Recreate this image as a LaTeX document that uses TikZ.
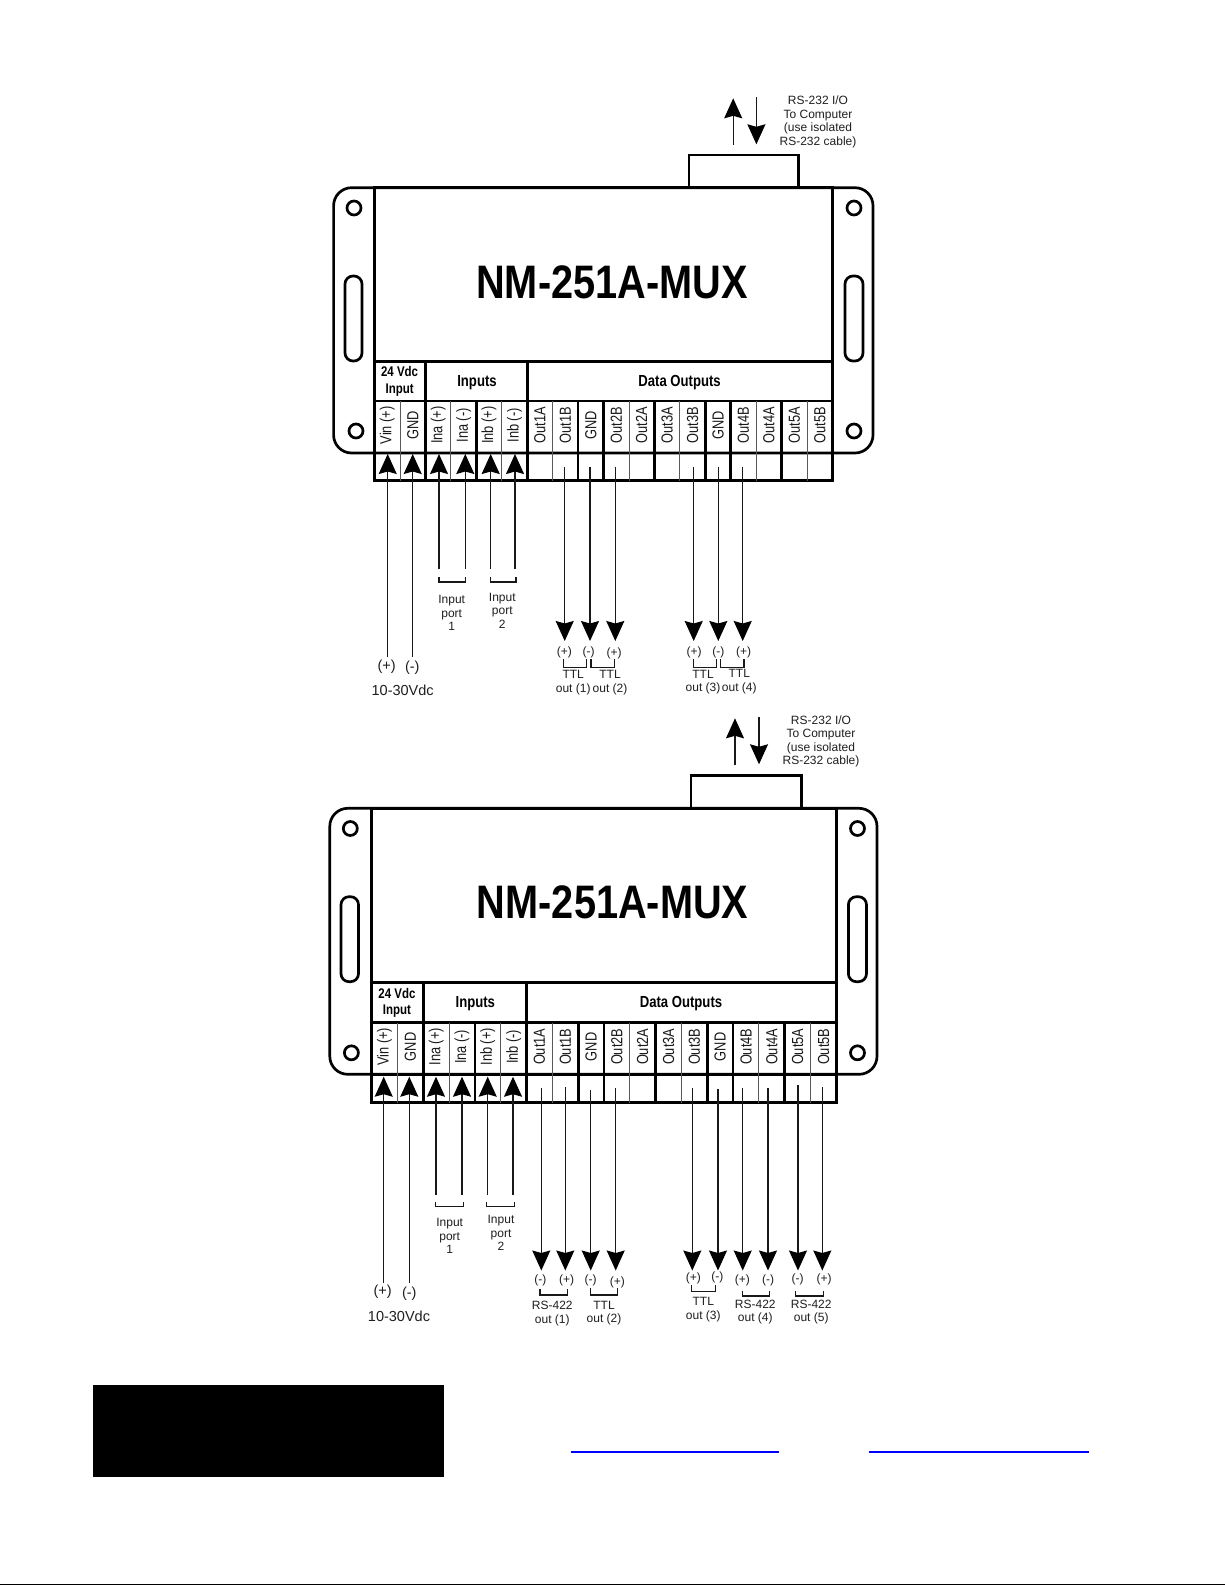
\documentclass[tikz,border=0pt]{standalone}
\usepackage{fontspec}
\setmainfont{Liberation Sans}
\newfontfamily\narrowf[FakeStretch=.8]{Liberation Sans}
\newfontfamily\hdrf[FakeStretch=.82]{Liberation Sans}
\newfontfamily\ttlf[FakeStretch=.845]{Liberation Sans}
\usetikzlibrary{arrows.meta}
\definecolor{txt}{gray}{.12}
\tikzset{
  heavy/.style={line width=2.7pt,black,line join=miter},
  light/.style={line width=.9pt,black!65},
  wire/.style={line width=1.25pt,black!90},
  head/.style={-{Stealth[length=20pt,width=18pt,inset=2.5pt,color=black]}},
  brk/.style={line width=1.3pt,black!90},
  lbl/.style={font=\fontsize{12}{13.5}\selectfont,inner sep=0pt,align=center,text=txt},
  pol/.style={font=\fontsize{12}{13}\selectfont,inner sep=0pt,text=txt},
  pwr/.style={font=\fontsize{14.5}{15}\selectfont,inner sep=0pt,text=txt},
  collbl/.style={font=\narrowf\fontsize{16}{16}\selectfont,inner sep=0pt,rotate=90,text=black!90},
  hdr/.style={font=\hdrf\bfseries\fontsize{16}{16.5}\selectfont,inner sep=0pt,align=center},
  hdrs/.style={font=\hdrf\bfseries\fontsize{14}{16.5}\selectfont,inner sep=0pt,align=center},
  ttl/.style={font=\ttlf\bfseries\fontsize{47}{50}\selectfont,inner sep=0pt},
  hole/.style={line width=2.7pt,black},
}
% wire with arrowhead: name, x, tip y, tail y
\newcommand{\wirearrow}[4]{%
  \coordinate (#1-tip) at (#2,#3);
  \coordinate (#1-tail) at (#2,#4);
  \draw[wire,head] (#1-tail) -- (#1-tip);}
% bracket: name, x1, x2, y1, y2
\newcommand{\wirebracket}[5]{%
  \coordinate (#1-a) at (#2,#4);
  \coordinate (#1-b) at (#3,#4);
  \draw[brk] (#1-a) -- (#2,#5) -- (#3,#5) -- (#1-b);}
% device drawn from the values set in \Pn (name prefix), \Ol \Or \Ot \Ob (outer), \Il \Ir \Tb, \Yh \Yc, \Cl \Cr \Ct
\newcommand{\drawdevice}{%
  \pgfmathsetmacro{\Cw}{(\Ir-\Il)/18}
  \coordinate (\Pn-nw) at (\Ol,\Ot);
  \coordinate (\Pn-se) at (\Or,\Ob);
  \draw[heavy,rounded corners=18pt] (\Pn-nw) rectangle (\Pn-se);
  \draw[heavy] (\Cl,\Ot) -- (\Cl,\Ct) -- (\Cr,\Ct) -- (\Cr,\Ot);
  \draw[heavy] (\Il,\Ot) rectangle (\Ir,\Tb);
  \draw[heavy] (\Il,\Yh) -- (\Ir,\Yh);
  \draw[heavy] (\Il,\Yc) -- (\Ir,\Yc);
  \draw[heavy] (\Il,\Ob) -- (\Ir,\Ob);
  \foreach \i in {2,6} {\draw[heavy] ({\Il+\i*\Cw},\Yh) -- ({\Il+\i*\Cw},\Yc);}
  \foreach \i in {2,4,6,8,9,11,13,14,16} {\draw[heavy] ({\Il+\i*\Cw},\Yc) -- ({\Il+\i*\Cw},\Tb);}
  \foreach \i in {1,3,5,7,10,12,15,17} {\draw[light] ({\Il+\i*\Cw},\Yc) -- ({\Il+\i*\Cw},\Tb);}
  \foreach \t [count=\i from 0] in {Vin (+),GND,Ina (+),Ina (-),Inb (+),Inb (-),Out1A,Out1B,GND,Out2B,Out2A,Out3A,Out3B,GND,Out4B,Out4A,Out5A,Out5B}
    {\node[collbl] (\Pn-col\i) at ({\Il+(\i+.5)*\Cw},{\Yc+.5*(\Ob-\Yc)-1.7}) {\t};}
}
\begin{document}
\begin{tikzpicture}[x=1pt,y=-1pt]
\useasboundingbox (0,0) rectangle (1225,1585);
\fill[white] (0,0) rectangle (1225,1585);

% ---------- upper device ----------
\def\Pn{a}\def\Ol{333.6}\def\Or{873}\def\Ot{187.7}\def\Ob{453}
\def\Il{374.6}\def\Ir{832.5}\def\Tb{480.7}\def\Yh{361.7}\def\Yc{401}
\def\Cl{689}\def\Cr{798.6}\def\Ct{155}
\drawdevice
\draw[hole] (354,208) circle (7pt) (356,431) circle (7pt) (854,208) circle (7pt) (854,431) circle (7pt);
\draw[heavy,rounded corners=8pt] (345,276) rectangle (362,361);
\draw[heavy,rounded corners=8pt] (845,276) rectangle (863,361);
\node[ttl] (a-title) at (612,282.5) {NM-251A-MUX};
\node[hdrs] (a-pwr) at (399.6,381.5) {24 Vdc\\Input};
\node[hdr] (a-in) at (477,382.5) {Inputs};
\node[hdr] (a-out) at (679.6,382.5) {Data Outputs};
\node[lbl] (a-rs) at (818,121.7) {RS-232 I/O\\To Computer\\(use isolated\\RS-232 cable)};
\wirearrow{a-up}{733.2}{98.3}{145}
\wirearrow{a-dn}{756.4}{144.3}{97.3}
\wirearrow{a-w1}{387.7}{454}{656.7}
\wirearrow{a-w2}{412.7}{454}{656.7}
\wirearrow{a-w3}{439}{454}{569}
\wirearrow{a-w4}{465.3}{454}{569}
\wirearrow{a-w5}{490.7}{454}{569}
\wirearrow{a-w6}{515}{454}{569}
\foreach \n/\x in {d1/564.7,d2/590,d3/615.3,d4/693.7,d5/718.3,d6/742.7} {\wirearrow{a-\n}{\x}{641}{466.7}}
\wirebracket{a-b1}{439}{465.5}{576.7}{582}
\wirebracket{a-b2}{490.7}{516}{576.7}{582}
\node[lbl] (a-ip1) at (451.7,613.3) {Input\\port\\1};
\node[lbl] (a-ip2) at (502.3,610.7) {Input\\port\\2};
\node[pwr] (a-p) at (386.7,666.7) {(+)};
\node[pwr] (a-m) at (412.3,667.7) {(-)};
\node[pwr] (a-v) at (402.7,690.7) {10-30Vdc};
\node[pol] at (564.3,652.7) (a-l1) {(+)};
\node[pol] at (588.7,652) (a-l2) {(-)};
\node[pol] at (614,653) (a-l3) {(+)};
\node[pol] at (694,652.3) (a-l4) {(+)};
\node[pol] at (718.3,652) (a-l5) {(-)};
\node[pol] at (743.7,652.3) (a-l6) {(+)};
\wirebracket{a-c1}{563.3}{586.7}{659.3}{667.3}
\wirebracket{a-c2}{591}{614.3}{659.3}{667.3}
\wirebracket{a-c3}{693.3}{716.7}{659.3}{667.3}
\wirebracket{a-c4}{720.7}{744}{659.3}{667.3}
\node[lbl] (a-t1) at (573.2,682.5) {TTL\\out (1)};
\node[lbl] (a-t2) at (610,682.5) {TTL\\out (2)};
\node[lbl] (a-t3) at (703,682) {TTL\\out (3)};
\node[lbl] (a-t4) at (739.3,681.5) {TTL\\out (4)};

% ---------- lower device ----------
\def\Pn{b}\def\Ol{329.8}\def\Or{877}\def\Ot{808.3}\def\Ob{1074.3}
\def\Il{371.6}\def\Ir{836.4}\def\Tb{1102.7}\def\Yh{982.7}\def\Yc{1022.7}
\def\Cl{691}\def\Cr{801.8}\def\Ct{775.7}
\drawdevice
\draw[hole] (350.3,828.5) circle (7pt) (351.4,1052.8) circle (7pt) (857.5,828.5) circle (7pt) (857.5,1052.8) circle (7pt);
\draw[heavy,rounded corners=8pt] (341,896.7) rectangle (358.5,981.7);
\draw[heavy,rounded corners=8pt] (848.4,896.7) rectangle (866.5,981.7);
\node[ttl] (b-title) at (612.7,902.7) {NM-251A-MUX};
\node[hdrs] (b-pwr) at (397,1003) {24 Vdc\\Input};
\node[hdr] (b-in) at (475.3,1004) {Inputs};
\node[hdr] (b-out) at (681,1004) {Data Outputs};
\node[lbl] (b-rs) at (821,741.5) {RS-232 I/O\\To Computer\\(use isolated\\RS-232 cable)};
\wirearrow{b-up}{735}{718.3}{765}
\wirearrow{b-dn}{759}{764.3}{717.3}
\wirearrow{b-w1}{383.7}{1076.7}{1283}
\wirearrow{b-w2}{409.3}{1076.7}{1283}
\wirearrow{b-w3}{436}{1076.7}{1195}
\wirearrow{b-w4}{462}{1076.7}{1195}
\wirearrow{b-w5}{487.7}{1076.7}{1195}
\wirearrow{b-w6}{513}{1076.7}{1195}
\foreach \n/\x/\s in {d1/541.3/1088.3,d2/565.3/1087.3,d3/590.7/1090,d4/615.7/1088.3,d5/692.3/1088.3,d6/718/1089,d7/742.7/1088.3,d8/768/1088.3,d9/798/1085,d10/822.3/1087.3} {\wirearrow{b-\n}{\x}{1270.5}{\s}}
\wirebracket{b-b1}{435.7}{463.3}{1201.7}{1206.7}
\wirebracket{b-b2}{486.7}{514.3}{1201.7}{1206.7}
\node[lbl] (b-ip1) at (449.7,1236) {Input\\port\\1};
\node[lbl] (b-ip2) at (501,1233.3) {Input\\port\\2};
\node[pwr] (b-p) at (382.7,1291.7) {(+)};
\node[pwr] (b-m) at (409.3,1293.3) {(-)};
\node[pwr] (b-v) at (399,1316) {10-30Vdc};
\node[pol] at (540.3,1280) (b-l1) {(-)};
\node[pol] at (566.7,1280) (b-l2) {(+)};
\node[pol] at (590.7,1280.7) (b-l3) {(-)};
\node[pol] at (617.3,1282) (b-l4) {(+)};
\node[pol] at (693.3,1278.3) (b-l5) {(+)};
\node[pol] at (717.3,1277.7) (b-l6) {(-)};
\node[pol] at (742.3,1280) (b-l7) {(+)};
\node[pol] at (768,1280) (b-l8) {(-)};
\node[pol] at (797.7,1279.3) (b-l9) {(-)};
\node[pol] at (824,1279) (b-l10) {(+)};
\wirebracket{b-c1}{540}{567.3}{1289.3}{1295}
\wirebracket{b-c2}{590.7}{617.7}{1288.3}{1295}
\wirebracket{b-c3}{691.7}{715.7}{1285}{1291.7}
\wirebracket{b-c4}{742.7}{769.3}{1290.7}{1296}
\wirebracket{b-c5}{795.7}{823.3}{1290.7}{1296}
\node[lbl] (b-t1) at (552.3,1313.5) {RS-422\\out (1)};
\node[lbl] (b-t2) at (604,1313) {TTL\\out (2)};
\node[lbl] (b-t3) at (703.3,1309.5) {TTL\\out (3)};
\node[lbl] (b-t4) at (755.3,1311.8) {RS-422\\out (4)};
\node[lbl] (b-t5) at (811.2,1311.8) {RS-422\\out (5)};

% ---------- footer ----------
\fill[black] (93,1385) rectangle (444,1477);
\draw[blue,line width=1.1pt] (571,1452) -- (779,1452);
\draw[blue,line width=1.1pt] (869,1452) -- (1089,1452);
\draw[black,line width=1.3pt] (0,1584.2) -- (1225,1584.2);
\end{tikzpicture}
\end{document}
